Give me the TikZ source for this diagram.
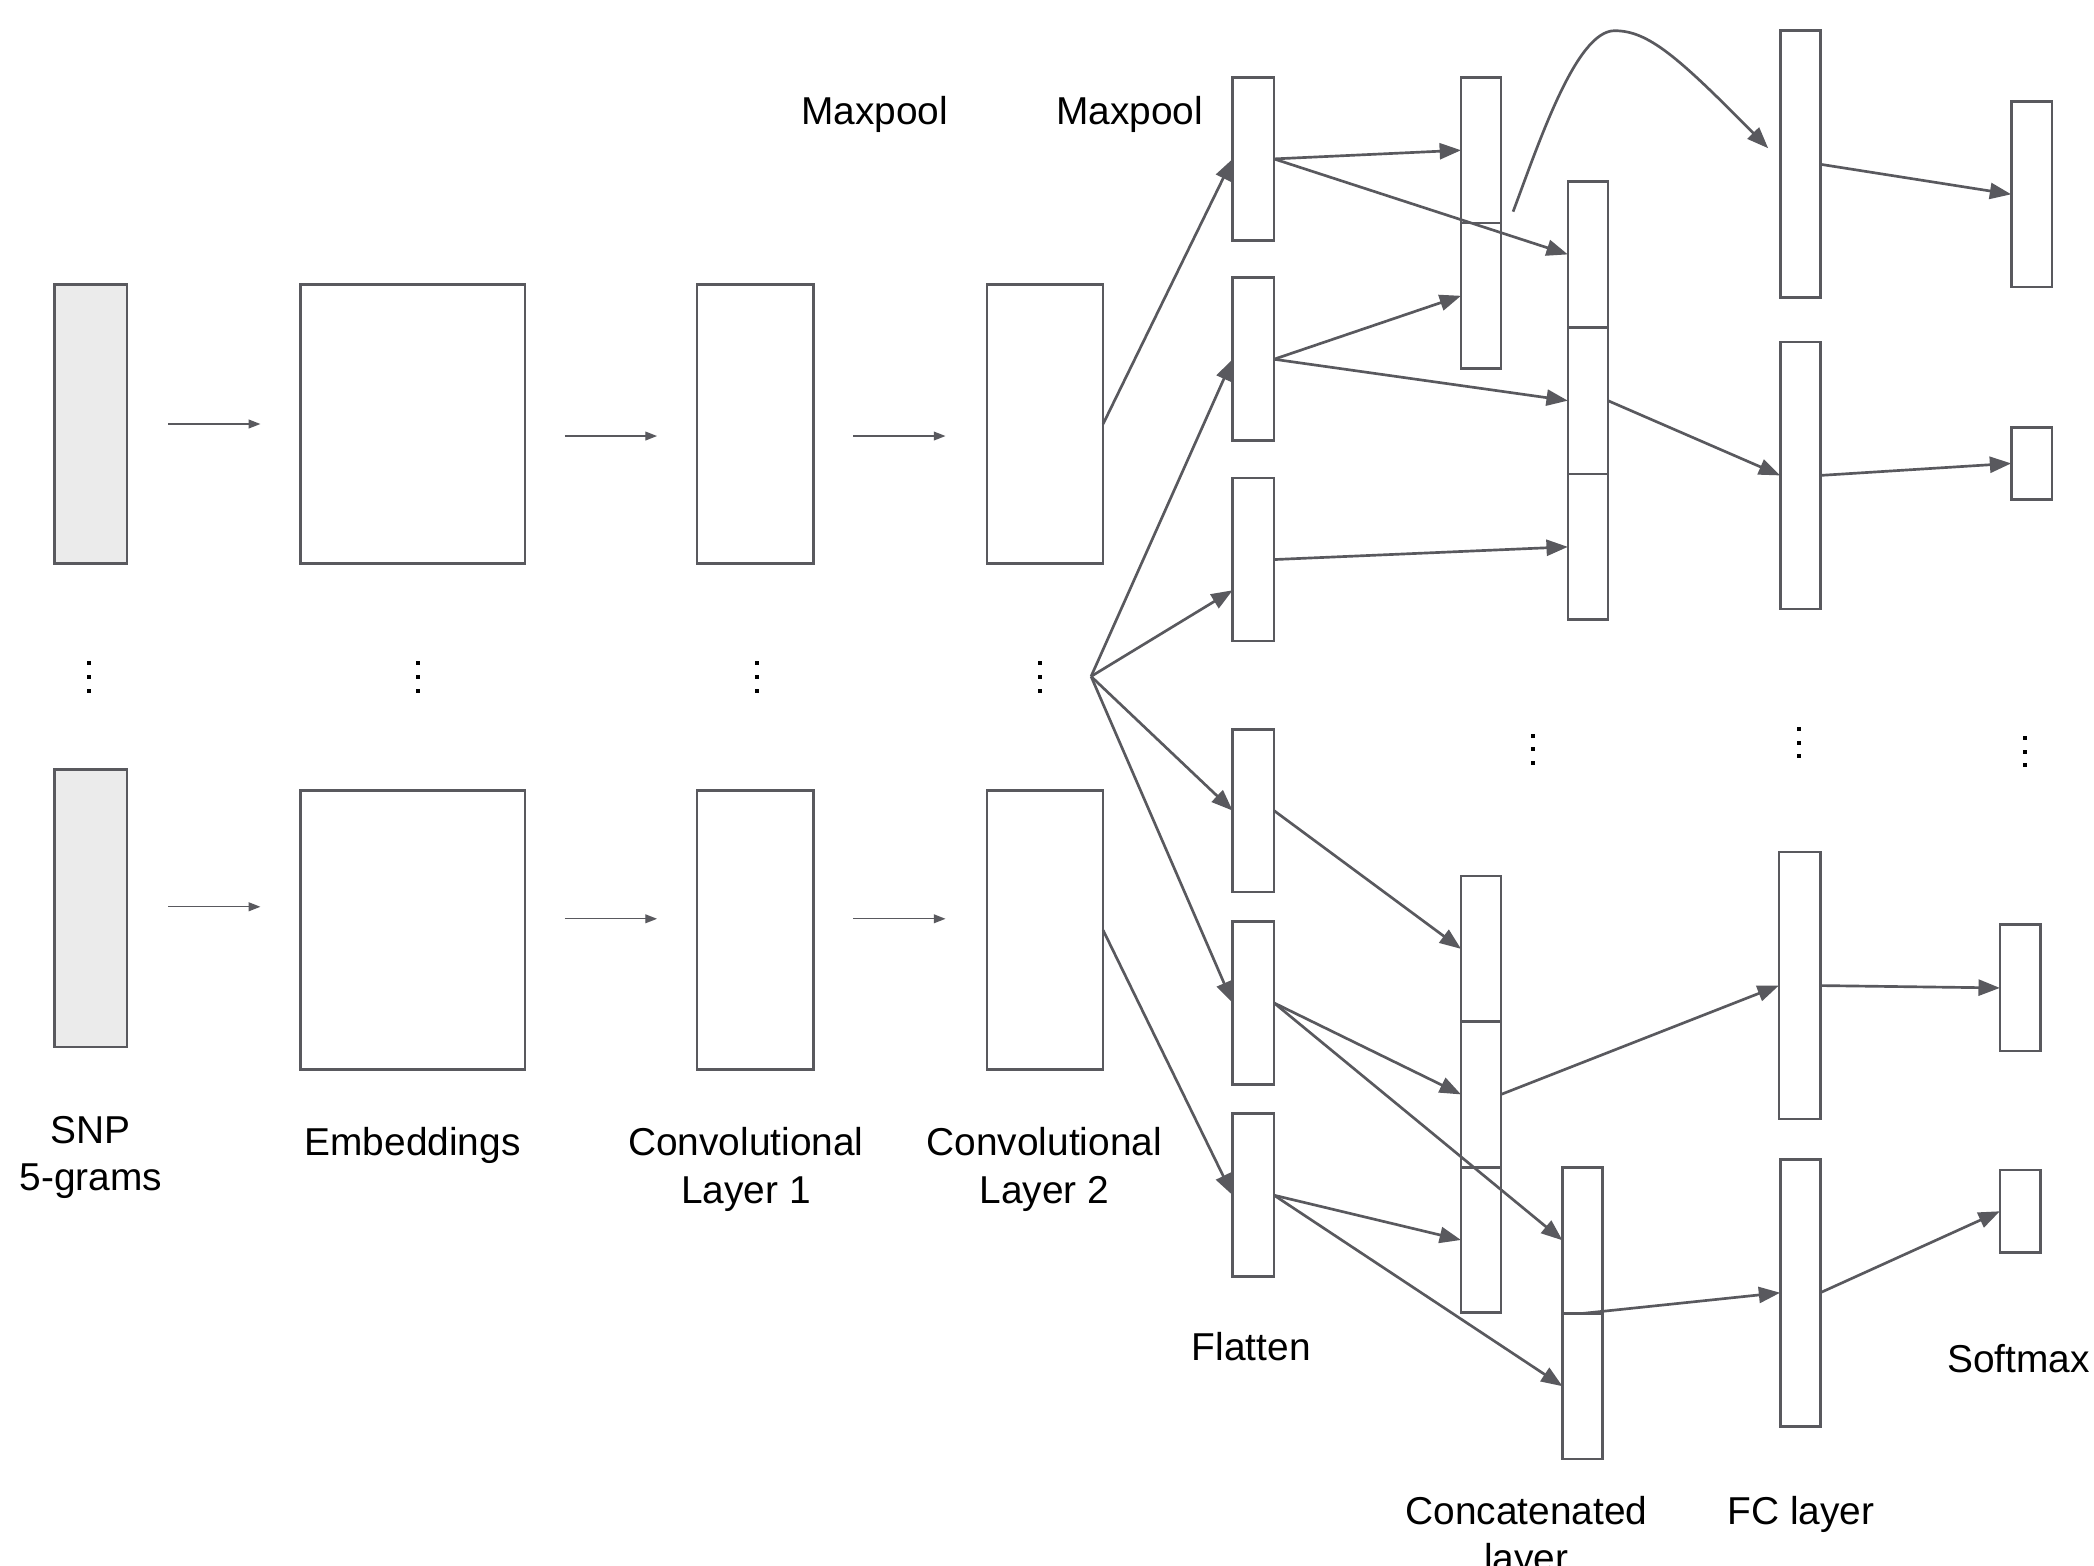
\documentclass[tikz,border=0pt]{standalone}
\usepackage{fontspec}
\setmainfont{Liberation Sans}
\usetikzlibrary{arrows.meta,fit,calc}
\definecolor{linegray}{RGB}{89,89,94}
\definecolor{snpfill}{RGB}{235,235,235}
\newcommand{\twolines}[2]{\begin{tabular}[t]{@{}c@{}}#1\\#2\end{tabular}}
\newcommand{\layerbox}[6][blk]{\node[#1, fit={(#3,#4) (#5,#6)}] (#2) {};}
\begin{document}
\begin{tikzpicture}[x=0.5pt,y=-0.5pt,
  blk/.style={draw=linegray, line width=1pt, inner sep=0pt, outer sep=0pt},
  snpbox/.style={blk, fill=snpfill},
  conn/.style={draw=linegray, line width=1pt, -{Triangle[length=8pt,width=6pt]}},
  smallarr/.style={draw=linegray, line width=0.5pt, -{Triangle[length=4.4pt,width=3.3pt]}},
  lbl/.style={font=\fontsize{14.55}{17.7}\selectfont, inner sep=0pt, anchor=base, text=black},
  vdots/.pic={\foreach \d in {-10.2,0,10.2}{\fill[black] (-1.5,\d-1.5) rectangle (1.5,\d+1.5);}}
]
\fill[white] (0,0) rectangle (1568,1172);
\useasboundingbox (0,0) rectangle (1568,1172);

% left columns
\layerbox[snpbox]{snpA}{41}{213}{95}{422}
\layerbox[snpbox]{snpB}{41}{576}{95}{784}
\layerbox{embA}{225}{213}{393}{422}
\layerbox{embB}{225}{592}{393}{801}
\layerbox{convoA}{522}{213}{609}{422}
\layerbox{convoB}{522}{592}{609}{801}
\layerbox{convtA}{739}{213}{826}{422}
\layerbox{convtB}{739}{592}{826}{801}

% flatten
\layerbox{F1}{923}{58}{954}{180}
\layerbox{F2}{923}{208}{954}{330}
\layerbox{F3}{923}{358}{954}{480}
\layerbox{F4}{923}{546}{954}{668}
\layerbox{F5}{923}{690}{954}{812}
\layerbox{F6}{923}{834}{954}{956}

% concatenated
\layerbox{C1a}{1094}{58}{1124}{167}
\layerbox{C1b}{1094}{167}{1124}{276}
\layerbox{C2a}{1174}{136}{1204}{245}
\layerbox{C2b}{1174}{245}{1204}{355}
\layerbox{C2c}{1174}{355}{1204}{464}
\layerbox{C3a}{1094}{656}{1124}{765}
\layerbox{C3b}{1094}{765}{1124}{874}
\layerbox{C3c}{1094}{874}{1124}{983}
\layerbox{C4a}{1170}{874}{1200}{983.5}
\layerbox{C4b}{1170}{983.5}{1200}{1092.5}

% FC
\layerbox{FC1}{1333}{23}{1363}{223}
\layerbox{FC2}{1333}{256}{1363}{456}
\layerbox{FC3}{1332}{638}{1363}{838}
\layerbox{FC4}{1333}{868}{1363}{1068}

% softmax
\layerbox{S1}{1506}{76}{1536.5}{215}
\layerbox{S2}{1506}{320}{1536.5}{374}
\layerbox{S3}{1497.5}{692.5}{1528}{787}
\layerbox{S4}{1497.5}{876}{1528}{938}

% small arrows
\draw[smallarr] ($(snpA.east)+(31,0)$) -- ($(embA.west)+(-30,0)$);
\draw[smallarr] ($(embA.east)+(30,9)$) -- ($(convoA.west)+(-30,9)$);
\draw[smallarr] ($(convoA.east)+(30,9)$) -- ($(convtA.west)+(-31,9)$);
\draw[smallarr] ($(snpB.east)+(31,-1)$) -- ($(embB.west)+(-30,-17.5)$);
\draw[smallarr] ($(embB.east)+(30,-8.5)$) -- ($(convoB.west)+(-30,-8.5)$);
\draw[smallarr] ($(convoB.east)+(30,-8.5)$) -- ($(convtB.west)+(-31,-8.5)$);

% fan
\coordinate (fan) at (817,506.5);
\draw[conn] (convtA.east) -- (F1.west);
\draw[conn] (fan) -- (F2.west);
\draw[conn] (fan) -- ($(F3.west)+(0,23)$);
\draw[conn] (fan) -- (F4.west);
\draw[conn] (fan) -- (F5.west);
\draw[conn] (convtB.east) -- (F6.west);

% flatten -> concatenated
\draw[conn] (F1.east) -- (C1a.west);
\draw[conn] (F1.east) -- (C2a.west);
\draw[conn] (F2.east) -- (C1b.west);
\draw[conn] (F2.east) -- (C2b.west);
\draw[conn] (F3.east) -- (C2c.west);
\draw[conn] (F4.east) -- (C3a.west);
\draw[conn] (F5.east) -- (C3b.west);
\draw[conn] (F5.east) -- (C4a.west);
\draw[conn] (F6.east) -- (C3c.west);
\draw[conn] (F6.east) -- (C4b.west);

% concatenated -> FC -> softmax
\coordinate (cstart) at (1133,158.5);
\coordinate (cend) at (1324,111);
\draw[conn] (cstart) .. controls (1152,108) and (1180,23) .. (1209,23)
            .. controls (1234,23) and (1256,42) .. (cend);
\draw[conn] (C2b.east) -- (FC2.west);
\draw[conn] (C3b.east) -- (FC3.west);
\draw[conn] (C4a.south) -- (FC4.west);
\draw[conn] (FC1.east) -- (S1.west);
\draw[conn] (FC2.east) -- (S2.west);
\draw[conn] (FC3.east) -- (S3.west);
\draw[conn] (FC4.east) -- (S4.west);

% dots
\pic at (67,507) {vdots};
\pic at (313,507) {vdots};
\pic at (567,507) {vdots};
\pic at (779,507) {vdots};
\pic at (1148,561) {vdots};
\pic at (1347,556) {vdots};
\pic at (1516,563) {vdots};

% labels
\node[lbl] (lsnp) at (68,856.4) {\twolines{SNP}{5-grams}};
\node[lbl] (lemb) at (309,865.6) {Embeddings};
\node[lbl] (lconvo) at (558.5,865.6) {\twolines{Convolutional}{Layer 1}};
\node[lbl] (lconvt) at (782,865.6) {\twolines{Convolutional}{Layer 2}};
\node[lbl] (lmpa) at (655,93) {Maxpool};
\node[lbl] (lmpb) at (846,93) {Maxpool};
\node[lbl] (lflat) at (937,1018.8) {Flatten};
\node[lbl] (lconc) at (1143,1141.2) {\twolines{Concatenated}{layer}};
\node[lbl] (lfc) at (1348.6,1141.2) {FC layer};
\node[lbl] (lsoft) at (1511.5,1027.5) {Softmax};
\end{tikzpicture}
\end{document}
